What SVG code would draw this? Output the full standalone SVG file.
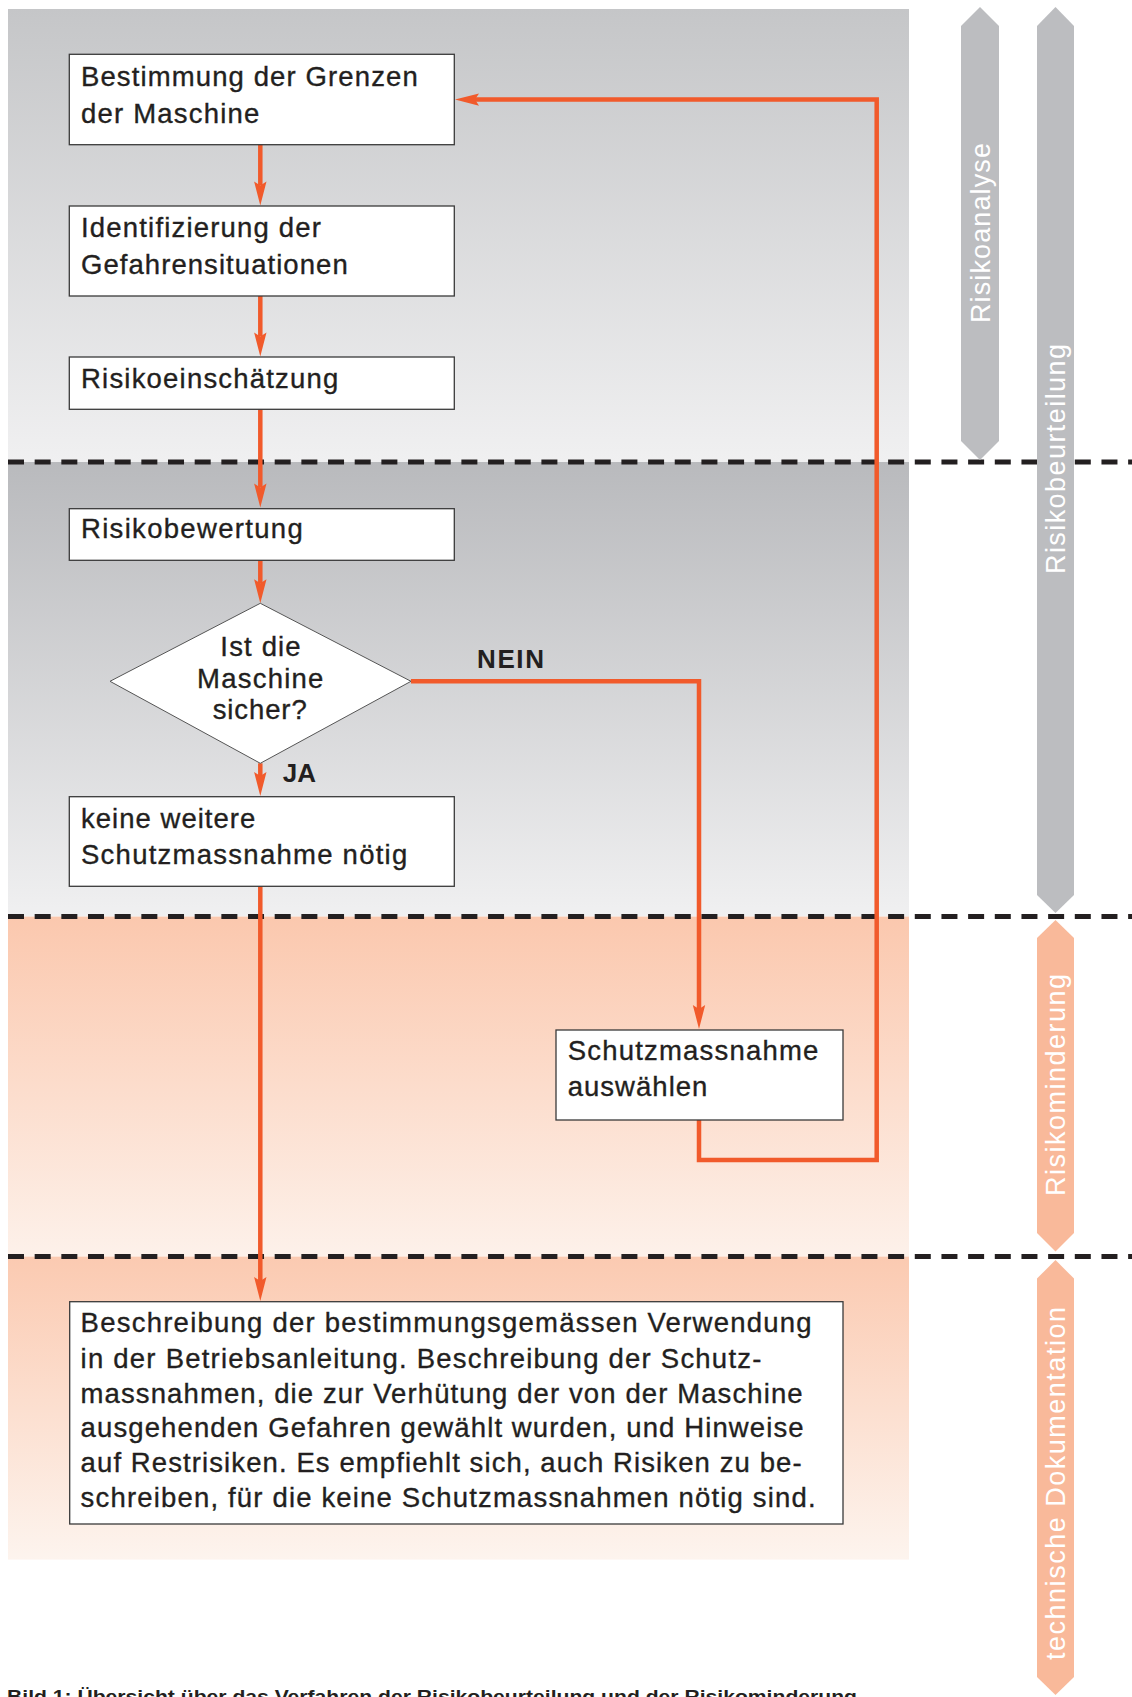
<svg xmlns="http://www.w3.org/2000/svg" width="1132" height="1697" viewBox="0 0 1132 1697">
  <defs>
    <linearGradient id="gAnalyse" x1="0" y1="0" x2="0" y2="1">
      <stop offset="0" stop-color="#c5c6c8"/>
      <stop offset="1" stop-color="#f0f0f1"/>
    </linearGradient>
    <linearGradient id="gBewertung" x1="0" y1="0" x2="0" y2="1">
      <stop offset="0" stop-color="#b9babd"/>
      <stop offset="1" stop-color="#f0f0f1"/>
    </linearGradient>
    <linearGradient id="gMinderung" x1="0" y1="0" x2="0" y2="1">
      <stop offset="0" stop-color="#fbc8ae"/>
      <stop offset="1" stop-color="#fdf1ea"/>
    </linearGradient>
    <linearGradient id="gDoku" x1="0" y1="0" x2="0" y2="1">
      <stop offset="0" stop-color="#fbcab1"/>
      <stop offset="1" stop-color="#fdf4ee"/>
    </linearGradient>
    <marker id="arrow" markerUnits="userSpaceOnUse" markerWidth="26" markerHeight="14" refX="4" refY="7" orient="auto" overflow="visible">
      <path d="M0,0.8 L24,7 L0,13.2 L4,7 Z" fill="#f15a2b"/>
    </marker>
  </defs>
  <style>
    .box { fill: #ffffff; stroke: #3a3a3a; stroke-width: 1.3; }
    .dia { fill: #ffffff; stroke: #555555; stroke-width: 1; }
    .t { font-family: "Liberation Sans", Arial, Helvetica, sans-serif; font-size: 27.5px; fill: #231f20; stroke: #231f20; stroke-width: 0.35; }
    .tb { font-family: "Liberation Sans", Arial, Helvetica, sans-serif; font-size: 26px; font-weight: bold; fill: #231f20; }
    .flow { fill: none; stroke: #f15a2b; stroke-width: 4.5; }
    .sep { stroke: #231f20; stroke-width: 5; stroke-dasharray: 16 10.67; }
    .barGray { fill: #bcbdc0; }
    .barOrange { fill: #f9b99a; }
    .bt { font-family: "Liberation Sans", Arial, Helvetica, sans-serif; font-size: 27px; fill: #ffffff; }
    .cap { font-family: "Liberation Sans", Arial, Helvetica, sans-serif; font-size: 18.5px; font-weight: bold; fill: #231f20; }
  </style>

  <rect width="1132" height="1697" fill="#ffffff"/>

  <!-- phase backgrounds -->
  <g id="phases">
    <rect x="8" y="9" width="901" height="453" fill="url(#gAnalyse)"/>
    <rect x="8" y="462" width="901" height="454.6" fill="url(#gBewertung)"/>
    <rect x="8" y="916.6" width="901" height="340" fill="url(#gMinderung)"/>
    <rect x="8" y="1256.6" width="901" height="303" fill="url(#gDoku)"/>
  </g>

  <!-- phase separators -->
  <g id="separators">
    <line class="sep" x1="8" y1="462" x2="1132" y2="462"/>
    <line class="sep" x1="8" y1="916.6" x2="1132" y2="916.6"/>
    <line class="sep" x1="8" y1="1256.6" x2="1132" y2="1256.6"/>
  </g>

  <!-- phase labels on the right -->
  <g id="bar-risikoanalyse">
    <polygon class="barGray" points="980,7 999,26 999,441 980,460 961,441 961,26"/>
    <text class="bt" transform="translate(989.5,233) rotate(-90)" text-anchor="middle" textLength="180" lengthAdjust="spacing">Risikoanalyse</text>
  </g>
  <g id="bar-risikobeurteilung">
    <polygon class="barGray" points="1055.5,7 1074,26 1074,895 1055.5,913 1037,895 1037,26"/>
    <text class="bt" transform="translate(1065,459) rotate(-90)" text-anchor="middle" textLength="230" lengthAdjust="spacing">Risikobeurteilung</text>
  </g>
  <g id="bar-risikominderung">
    <polygon class="barOrange" points="1055.5,920 1074,938 1074,1233 1055.5,1251.5 1037,1233 1037,938"/>
    <text class="bt" transform="translate(1065,1085) rotate(-90)" text-anchor="middle" textLength="222" lengthAdjust="spacing">Risikominderung</text>
  </g>
  <g id="bar-dokumentation">
    <polygon class="barOrange" points="1055.5,1260 1074,1278.6 1074,1677 1055.5,1695 1037,1677 1037,1278.6"/>
    <text class="bt" transform="translate(1065,1483.5) rotate(-90)" text-anchor="middle" textLength="353" lengthAdjust="spacing">technische Dokumentation</text>
  </g>

  <!-- connectors -->
  <g id="connectors">
    <path class="flow" d="M260.3,144.7 V185.5" marker-end="url(#arrow)"/>
    <path class="flow" d="M260.3,296 V336.5" marker-end="url(#arrow)"/>
    <path class="flow" d="M260.3,409.3 V487.5" marker-end="url(#arrow)"/>
    <path class="flow" d="M260.3,560.3 V583.3" marker-end="url(#arrow)"/>
    <path class="flow" d="M260.3,763.3 V776" marker-end="url(#arrow)"/>
    <path class="flow" d="M260.3,886.3 V1281" marker-end="url(#arrow)"/>
    <path class="flow" d="M411,681.3 H699 V1009" marker-end="url(#arrow)"/>
    <path class="flow" d="M699,1120 V1160 H876.7 V99.6 H475" marker-end="url(#arrow)"/>
    <text class="tb" x="477" y="668" textLength="67" lengthAdjust="spacing">NEIN</text>
    <text class="tb" x="282.7" y="782.3" textLength="33.3" lengthAdjust="spacing">JA</text>
  </g>

  <!-- process steps -->
  <g id="grenzen">
    <rect class="box" x="69.3" y="54.3" width="385" height="90.4"/>
    <text class="t" x="81" y="86" textLength="336.7" lengthAdjust="spacing">Bestimmung der Grenzen</text>
    <text class="t" x="81" y="123.3" textLength="178.3" lengthAdjust="spacing">der Maschine</text>
  </g>
  <g id="gefahren">
    <rect class="box" x="69.3" y="206" width="385" height="90"/>
    <text class="t" x="81" y="237.3" textLength="240" lengthAdjust="spacing">Identifizierung der</text>
    <text class="t" x="81" y="274" textLength="266.7" lengthAdjust="spacing">Gefahrensituationen</text>
  </g>
  <g id="einschaetzung">
    <rect class="box" x="69.3" y="357" width="385" height="52.3"/>
    <text class="t" x="81" y="387.7" textLength="257.3" lengthAdjust="spacing">Risikoeinschätzung</text>
  </g>
  <g id="bewertung">
    <rect class="box" x="69.3" y="508.7" width="385" height="51.6"/>
    <text class="t" x="81" y="538.3" textLength="221.7" lengthAdjust="spacing">Risikobewertung</text>
  </g>
  <g id="entscheidung">
    <polygon class="dia" points="260.3,603.3 411,681.3 260.3,763.3 110,681.3"/>
    <text class="t" x="260.5" y="656" text-anchor="middle" textLength="80.3" lengthAdjust="spacing">Ist die</text>
    <text class="t" x="260.2" y="687.7" text-anchor="middle" textLength="126.3" lengthAdjust="spacing">Maschine</text>
    <text class="t" x="259.7" y="718.7" text-anchor="middle" textLength="94" lengthAdjust="spacing">sicher?</text>
  </g>
  <g id="keine-massnahme">
    <rect class="box" x="69.3" y="796.7" width="385" height="89.6"/>
    <text class="t" x="81" y="827.7" textLength="174.3" lengthAdjust="spacing">keine weitere</text>
    <text class="t" x="81" y="864.3" textLength="326.3" lengthAdjust="spacing">Schutzmassnahme nötig</text>
  </g>
  <g id="massnahme-auswaehlen">
    <rect class="box" x="556" y="1030" width="287" height="90"/>
    <text class="t" x="567.7" y="1060.4" textLength="250.7" lengthAdjust="spacing">Schutzmassnahme</text>
    <text class="t" x="567.7" y="1095.6" textLength="139.7" lengthAdjust="spacing">auswählen</text>
  </g>
  <g id="dokumentation">
    <rect class="box" x="69.7" y="1301.7" width="773.3" height="222.3"/>
    <text class="t" x="80.6" y="1332.3" textLength="731" lengthAdjust="spacing">Beschreibung der bestimmungsgemässen Verwendung</text>
    <text class="t" x="80.6" y="1367.5" textLength="680.8" lengthAdjust="spacing">in der Betriebsanleitung. Beschreibung der Schutz-</text>
    <text class="t" x="80.6" y="1402.5" textLength="722" lengthAdjust="spacing">massnahmen, die zur Verhütung der von der Maschine</text>
    <text class="t" x="80.6" y="1437.3" textLength="723" lengthAdjust="spacing">ausgehenden Gefahren gewählt wurden, und Hinweise</text>
    <text class="t" x="80.6" y="1472.3" textLength="721" lengthAdjust="spacing">auf Restrisiken. Es empfiehlt sich, auch Risiken zu be-</text>
    <text class="t" x="80.6" y="1507.3" textLength="735" lengthAdjust="spacing">schreiben, für die keine Schutzmassnahmen nötig sind.</text>
  </g>

  <!-- figure caption, cut by the lower page edge -->
  <text class="cap" x="7" y="1702.5" textLength="850" lengthAdjust="spacingAndGlyphs">Bild 1: Übersicht über das Verfahren der Risikobeurteilung und der Risikominderung</text>
</svg>
